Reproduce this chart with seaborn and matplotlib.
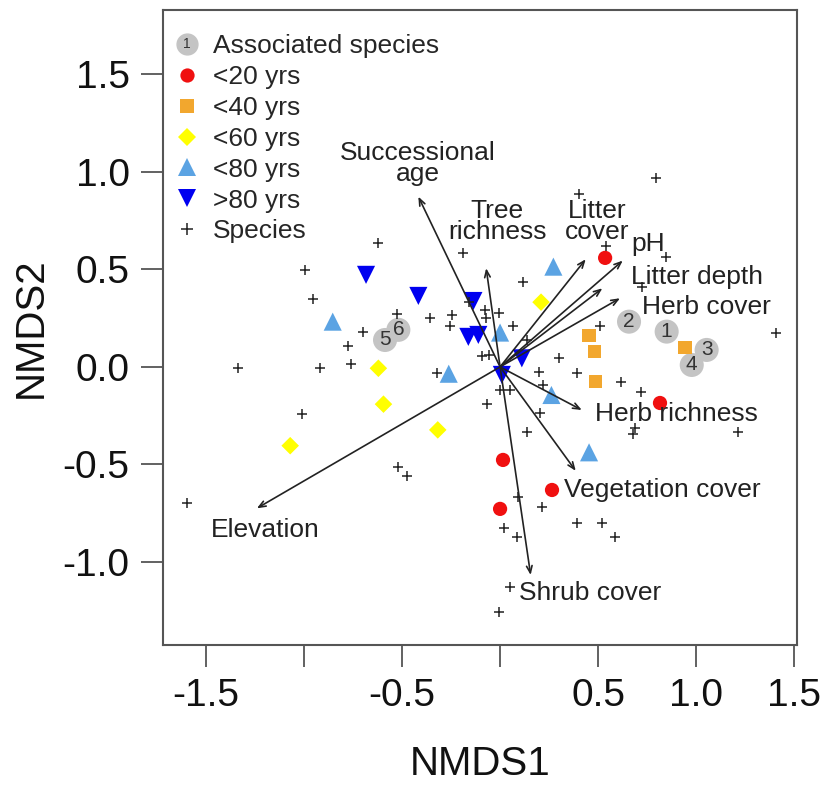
import numpy as np
import pandas as pd
import seaborn as sns
import matplotlib.pyplot as plt
from matplotlib.lines import Line2D
from matplotlib.legend_handler import HandlerBase

# --- data ---
age_groups = ['<20 yrs', '<40 yrs', '<60 yrs', '<80 yrs', '>80 yrs']

lt20_x = [0.536, 0.816, 0.015, 0.265, 0.000]
lt20_y = [0.559, -0.185, -0.477, -0.631, -0.728]
lt40_x = [0.454, 0.480, 0.486, 0.944]
lt40_y = [0.160, 0.078, -0.074, 0.098]
lt60_x = [-0.621, -0.595, -0.318, -1.071, 0.209]
lt60_y = [-0.007, -0.191, -0.323, -0.404, 0.332]
lt80_x = [-0.854, -0.262, 0.000, 0.272, 0.262, 0.454]
lt80_y = [0.232, -0.035, 0.176, 0.514, -0.144, -0.438]
gt80_x = [-0.684, -0.417, -0.136, -0.162, -0.111, 0.111, 0.009]
gt80_y = [0.472, 0.364, 0.338, 0.154, 0.164, 0.044, -0.041]

assoc_labels = ['1', '2', '3', '4', '5', '6']
assoc_x = [0.850, 0.658, 1.054, 0.978, -0.587, -0.519]
assoc_y = [0.181, 0.232, 0.087, 0.010, 0.138, 0.190]

spp_x = [-0.621, -0.995, -0.956, -0.527, -0.700, -0.777, -0.760, -0.918, -1.335,
         -1.012, -0.519, -0.476, -1.598, -0.187, 0.116, -0.357, -0.246, -0.255,
         -0.077, -0.004, -0.071, 0.068, -0.093, -0.055, -0.323, 0.201, 0.303,
         0.391, 0.000, 0.051, 0.221, 0.798, 0.403, 0.538, 0.847, 0.723, 0.510,
         1.408, 0.617, 0.719, -0.068, 0.204, 0.139, 0.689, 0.680, 1.216, 0.093,
         0.216, 0.395, 0.522, 0.587, 0.020, 0.088, 0.051, -0.003, 0.136, -0.157]
spp_y = [0.637, 0.497, 0.350, 0.272, 0.179, 0.108, 0.015, -0.007, -0.007,
         -0.241, -0.511, -0.559, -0.699, 0.586, 0.437, 0.250, 0.267, 0.210,
         0.292, 0.278, 0.250, 0.210, 0.054, 0.059, -0.029, -0.024, 0.045,
         -0.032, -0.118, -0.118, -0.092, 0.967, 0.885, 0.618, 0.566, 0.412, 0.210,
         0.176, -0.078, -0.130, -0.192, -0.238, -0.332, -0.314, -0.346, -0.336, -0.665,
         -0.716, -0.798, -0.798, -0.870, -0.826, -0.874, -1.127, -1.255, 0.138, 0.335]

env_names = ['Successional\nage', 'Tree\nrichness', 'Litter\ncover', 'pH', 'Litter depth',
             'Herb cover', 'Herb richness', 'Vegetation cover', 'Shrub cover', 'Elevation']
env_x = [-0.417, -0.071, 0.437, 0.626, 0.522, 0.612, 0.417, 0.386, 0.156, -1.241]
env_y = [0.873, 0.506, 0.552, 0.545, 0.403, 0.352, -0.221, -0.533, -1.067, -0.725]

# label placement (layout only)
env_lab_pos = [(-0.418, 1.041), (-0.015, 0.744), (0.495, 0.744), (0.755, 0.631),
               (1.005, 0.462), (1.051, 0.308), (0.898, -0.241), (0.827, -0.631),
               (0.459, -1.159), (-1.199, -0.836)]

sites = pd.DataFrame({
    'NMDS1': lt20_x + lt40_x + lt60_x + lt80_x + gt80_x,
    'NMDS2': lt20_y + lt40_y + lt60_y + lt80_y + gt80_y,
    'age': (['<20 yrs'] * len(lt20_x) + ['<40 yrs'] * len(lt40_x) + ['<60 yrs'] * len(lt60_x)
            + ['<80 yrs'] * len(lt80_x) + ['>80 yrs'] * len(gt80_x)),
})
species = pd.DataFrame({'NMDS1': spp_x, 'NMDS2': spp_y})
assoc = pd.DataFrame({'NMDS1': assoc_x, 'NMDS2': assoc_y, 'id': assoc_labels})

colors = {'<20 yrs': '#f01010', '<40 yrs': '#f2a72e', '<60 yrs': '#ffff00',
          '<80 yrs': '#5ba3e3', '>80 yrs': '#0000f0'}
markers = {'<20 yrs': 'o', '<40 yrs': 's', '<60 yrs': 'D', '<80 yrs': '^', '>80 yrs': 'v'}
sizes = {'<20 yrs': 105, '<40 yrs': 90, '<60 yrs': 80, '<80 yrs': 170, '>80 yrs': 170}

sns.set_style('ticks')
plt.rcParams['font.family'] = ['Liberation Sans', 'DejaVu Sans']

fig = plt.figure(figsize=(8.27, 7.87), dpi=100)
ax = fig.add_axes([0.1971, 0.1804, 0.7666, 0.8069])

# associated species (grey discs with numbers)
sns.scatterplot(data=assoc, x='NMDS1', y='NMDS2', color='#c4c4c4', s=300,
                edgecolor='none', ax=ax, legend=False, zorder=2)
for _, r in assoc.iterrows():
    ax.text(r.NMDS1, r.NMDS2, r.id, ha='center', va='center', fontsize=15,
            color='#333333', zorder=3)

# sites
sns.scatterplot(data=sites, x='NMDS1', y='NMDS2', hue='age', style='age', size='age',
                palette=colors, markers=markers, sizes=sizes, hue_order=age_groups,
                edgecolor='none', ax=ax, legend=False, zorder=4)

# species crosses
sns.scatterplot(data=species, x='NMDS1', y='NMDS2', marker='+', color='#222222',
                s=55, linewidth=1.1, ax=ax, legend=False, zorder=5)

# environmental vectors
for name, ex, ey, (lx, ly) in zip(env_names, env_x, env_y, env_lab_pos):
    ax.annotate('', xy=(ex, ey), xytext=(0, 0),
                arrowprops=dict(arrowstyle='->,head_length=0.5,head_width=0.2',
                                color='#222222', lw=1.2, shrinkA=0, shrinkB=0),
                zorder=6)
    ax.text(lx, ly, name, ha='center', va='center', fontsize=19, color='#222222',
            linespacing=0.85, zorder=7)

ax.set_xlim(-1.72, 1.515)
ax.set_ylim(-1.426, 1.83)
ax.set_xticks([-1.5, -1.0, -0.5, 0.0, 0.5, 1.0, 1.5])
ax.set_xticklabels(['-1.5', '', '-0.5', '', '0.5', '1.0', '1.5'])
ax.set_yticks([-1.0, -0.5, 0.0, 0.5, 1.0, 1.5])
ax.set_yticklabels(['-1.0', '-0.5', '0.0', '0.5', '1.0', '1.5'])
ax.tick_params(axis='both', labelsize=28, length=16, width=1.3, color='#555555',
               labelcolor='#111111', pad=8)
for sp in ax.spines.values():
    sp.set_color('#555555')
    sp.set_linewidth(1.5)
ax.set_xlabel('NMDS1', fontsize=29, color='#111111', labelpad=22)
ax.set_ylabel('NMDS2', fontsize=29, color='#111111', labelpad=9)


class DiscNumberHandler(HandlerBase):
    def create_artists(self, legend, orig_handle, xd, yd, width, height, fontsize, trans):
        cx, cy = xd + width / 2, yd + height / 2
        disc = Line2D([cx], [cy], marker='o', markersize=15, color='#c4c4c4',
                      linestyle='none', transform=trans)
        num = plt.Text(cx, cy, '1', ha='center', va='center', fontsize=10,
                       color='#333333', transform=trans)
        return [disc, num]


assoc_handle = object()
handles = [assoc_handle]
for g in age_groups:
    handles.append(Line2D([], [], marker=markers[g], color=colors[g], linestyle='none',
                          markersize=np.sqrt(sizes[g]), markeredgewidth=0))
handles.append(Line2D([], [], marker='+', color='#222222', linestyle='none',
                      markersize=8, markeredgewidth=1.1))
labels = ['Associated species'] + age_groups + ['Species']
ax.legend(handles, labels, loc='upper left', frameon=False, fontsize=19,
          handler_map={assoc_handle: DiscNumberHandler()}, handlelength=1.0,
          handletextpad=0.5, labelspacing=0.26, borderaxespad=0.4,
          bbox_to_anchor=(-0.017, 0.995))

fig.savefig('out.png', dpi=100)
